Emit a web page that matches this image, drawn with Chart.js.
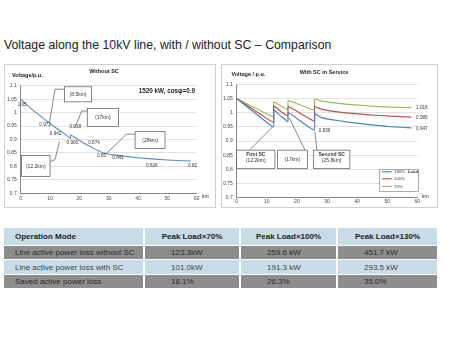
<!DOCTYPE html>
<html>
<head>
<meta charset="utf-8">
<script src="https://cdn.jsdelivr.net/npm/chart.js@4.4.0/dist/chart.umd.min.js"></script>
<style>
  body { margin: 0; background: #fff; width: 450px; height: 338px; overflow: hidden; position: relative;
         font-family: "Liberation Sans", Arial, sans-serif; }
  .title { position: absolute; left: 4px; top: 38px; font-size: 12.3px; color: #222; white-space: nowrap; }
  .panel { position: absolute; border: 1px solid #cfcfcf; background: #fff; }
  #p1 { left: 4px; top: 64px; width: 210px; height: 142px; }
  #p2 { left: 221px; top: 64px; width: 215px; height: 142px; }
  canvas { display: block; }
  table { position: absolute; left: 4px; top: 228px; width: 433px; border-collapse: collapse; font-size: 8px; table-layout: fixed; }
  td { box-sizing: border-box; padding: 0 0 0 26px; height: 14.4px; border-right: 2px solid #fff; border-bottom: 1px solid #fff;
       color: #333; white-space: nowrap; overflow: hidden; }
  td:last-child { border-right: none; }
  td:first-child { padding-left: 11px; }
  tr.head td { height: 17.5px; font-weight: bold; color: #222; text-align: center; padding: 0; background: #c7dce6; }
  tr.head td:first-child { text-align: left; padding-left: 11px; }
  tr.dark td { background: #8d8d8d; color: #2a2a2a; }
  tr.light td { background: #c7dce6; color: #444; }
</style>
</head>
<body>
<div class="title">Voltage along the 10kV line, with / without SC – Comparison</div>
<div class="panel" id="p1"><canvas id="c1" width="210" height="142"></canvas></div>
<div class="panel" id="p2"><canvas id="c2" width="215" height="142"></canvas></div>
<table id="tbl"></table>

<script>
// ліва діаграма: без SC
const leftKm = [0, 4, 8.5, 12.2, 15, 16.9, 17, 18, 21, 24, 28, 33, 40, 47, 53, 58];
const leftV = [1.05, 1.011, 0.972, 0.942, 0.921, 0.904, 0.918, 0.911, 0.89, 0.872, 0.851, 0.841, 0.832, 0.826, 0.822, 0.82];
const leftLabels = ['1.05', '0.972', '0.942', '0.918', '0.906', '0.874', '0.85', '0.841', '0.826', '0.82'];

// права діаграма: з SC
const rightKm = [0, 6, 12.2, 12.3, 14.5, 17, 17.1, 21.5, 25.8, 25.9, 28, 31, 37, 44, 51, 58];
const load130 = [1.05, 1.0, 0.951, 1.010, 0.99, 0.969, 1.001, 0.968, 0.939, 0.996, 0.984, 0.977, 0.967, 0.958, 0.951, 0.947];
const load100 = [1.05, 1.008, 0.967, 1.024, 1.006, 0.989, 1.022, 0.996, 0.971, 1.022, 1.013, 1.007, 0.999, 0.993, 0.988, 0.985];
const load70 = [1.05, 1.018, 0.987, 1.038, 1.025, 1.013, 1.043, 1.026, 1.010, 1.048, 1.042, 1.037, 1.030, 1.024, 1.020, 1.018];
const rightLabels = ['1.018', '0.985', '0.947', '0.939'];
const seriesNames = ['130%', '100%', '70%'];

const yTickValues = [0.7, 0.75, 0.8, 0.85, 0.9, 0.95, 1, 1.05, 1.1];
const yTickLabels = ['0.7', '0.75', '0.8', '0.85', '0.9', '0.95', '1', '1.05', '1.1'];
const xTickValues = [0, 10, 20, 30, 40, 50, 60];
const xTickLabels = ['0', '10', '20', '30', '40', '50', '60'];

// таблиця
const tableHead = ['Operation Mode', 'Peak Load×70%', 'Peak Load×100%', 'Peak Load×130%'];
const rowNames = ['Line active power loss without SC', 'Line active power loss with SC', 'Saved active power loss'];
const lossNoSC = ['123.3kW', '259.6 kW', '451.7 kW'];
const lossSC = ['101.0kW', '191.3 kW', '293.5 kW'];
const saved = ['18.1%', '26.3%', '35.0%'];

const FONT = '"Liberation Sans", Arial, sans-serif';
const BLUE = '#4f81bd', RED = '#c0504d', GREEN = '#9bbb59';

function pts(xs, ys) {
  return xs.map((k, i) => ({ x: k, y: ys[i] }));
}

function scalesFor(yWidth, xHeight, xPad) {
  return {
    x: {
      type: 'linear', min: 0, max: 60,
      afterBuildTicks: s => { s.ticks = xTickValues.map(v => ({ value: v })); },
      afterFit: s => { s.height = xHeight; },
      grid: { display: false, drawTicks: false },
      border: { display: true, color: '#868686', width: 1 },
      ticks: { font: { size: 5, family: FONT }, color: '#444', padding: xPad, maxRotation: 0,
               callback: (v, i) => xTickLabels[i] }
    },
    y: {
      min: 0.7, max: 1.1,
      afterBuildTicks: s => { s.ticks = yTickValues.map(v => ({ value: v })); },
      afterFit: s => { s.width = yWidth; },
      grid: { color: '#d9d9d9', lineWidth: 0.8, drawTicks: false },
      border: { display: true, color: '#868686', width: 1 },
      ticks: { font: { size: 5, family: FONT }, color: '#444', padding: 4,
               callback: (v, i) => yTickLabels[i] }
    }
  };
}

function box(c, px, py, k1, v1, k2, v2, lines, leader, textY) {
  if (leader) {
    c.beginPath();
    leader.forEach((p, i) => i ? c.lineTo(px(p[0]), py(p[1])) : c.moveTo(px(p[0]), py(p[1])));
    c.strokeStyle = '#555'; c.lineWidth = 0.7; c.stroke();
  }
  const x1 = px(k1), y1 = py(v1), x2 = px(k2), y2 = py(v2);
  c.fillStyle = '#fff';
  c.fillRect(x1, y1, x2 - x1, y2 - y1);
  c.strokeStyle = '#555'; c.lineWidth = 0.7;
  c.strokeRect(x1, y1, x2 - x1, y2 - y1);
  c.fillStyle = '#333'; c.textAlign = 'center'; c.textBaseline = 'middle';
  lines.forEach((t, i) => {
    c.font = (i === 0 && lines.length > 1 ? 'bold ' : '') + '5px ' + FONT;
    const ty = textY ? y1 + textY[i] : (y1 + y2) / 2;
    c.fillText(t, (x1 + x2) / 2, ty);
  });
}

const leftDecor = {
  id: 'leftDecor',
  afterDraw(chart) {
    const c = chart.ctx, X = chart.scales.x, Y = chart.scales.y;
    const px = k => X.getPixelForValue(k), py = v => Y.getPixelForValue(v);
    c.save();
    c.fillStyle = '#222'; c.textBaseline = 'middle';
    c.font = 'bold 5.5px ' + FONT; c.textAlign = 'center';
    c.fillText('Without SC', 99, 6);
    c.textAlign = 'left';
    c.fillText('Voltage/p.u.', 7, 10.5);
    c.font = '5px ' + FONT;
    c.fillText('km', 197, 132);
    c.font = 'bold 6.3px ' + FONT; c.textAlign = 'right';
    c.fillText('1520 kW, cosφ=0.9', px(59.4), py(1.08));

    // підписи значень
    const pos = [[0.5, 1.03], [8.3, 0.954], [11.9, 0.921], [18.6, 0.947], [17.6, 0.889],
                 [25, 0.888], [27.6, 0.839], [33.2, 0.834], [44.7, 0.804], [58.6, 0.801]];
    c.font = '4.6px ' + FONT; c.textAlign = 'center'; c.fillStyle = '#333';
    leftLabels.forEach((t, i) => c.fillText(t, px(pos[i][0]), py(pos[i][1])));

    // виноски
    box(c, px, py, 14.9, 1.096, 24.2, 1.04, ['(8.5km)'], [[9.8, 0.962], [11.7, 1.087], [14.9, 1.087]]);
    box(c, px, py, 22.7, 1.015, 33.3, 0.948, ['(17km)'], [[18.5, 0.944], [20.8, 1.006], [22.7, 1.006]]);
    box(c, px, py, 39, 0.929, 49.2, 0.866, ['(28km)'], [[29.3, 0.849], [36.1, 0.92], [39, 0.92]]);
    box(c, px, py, 0.3, 0.84, 10, 0.762, ['(12.2km)'], [[10, 0.818], [11.7, 0.825], [13.2, 0.892]]);
    c.restore();
  }
};

const rightDecor = {
  id: 'rightDecor',
  afterDraw(chart) {
    const c = chart.ctx, X = chart.scales.x, Y = chart.scales.y;
    const px = k => X.getPixelForValue(k), py = v => Y.getPixelForValue(v);
    c.save();
    c.fillStyle = '#222'; c.textBaseline = 'middle';
    c.font = 'bold 5.5px ' + FONT; c.textAlign = 'center';
    c.fillText('With SC in Service', 102, 7.7);
    c.textAlign = 'left';
    c.fillText('Voltage / p.u.', 9.5, 9.5);
    c.font = '5px ' + FONT;
    c.fillText('km', 200, 131.7);

    const pos = [[59.6, 1.018], [59.6, 0.983], [59.6, 0.945], [27.3, 0.936]];
    c.font = '4.6px ' + FONT; c.fillStyle = '#333';
    rightLabels.forEach((t, i) => c.fillText(t, px(pos[i][0]), py(pos[i][1])));

    box(c, px, py, 0, 0.868, 12.7, 0.803, ['First SC', '(12.2km)'], [[4.2, 0.868], [12, 0.951]], [4.5, 10.5]);
    box(c, px, py, 13.5, 0.868, 23.5, 0.803, ['(17km)'], [[22.7, 0.868], [17.5, 0.981]]);
    box(c, px, py, 25.5, 0.868, 37.6, 0.803, ['Second SC', '(25.8km)'], [[26.6, 0.868], [26, 0.933]], [4.5, 10.5]);

    // легенда
    const lx1 = px(47.4), ly1 = py(0.799), lx2 = px(60.4), ly2 = py(0.722);
    c.fillStyle = '#fff'; c.fillRect(lx1, ly1, lx2 - lx1, ly2 - ly1);
    c.strokeStyle = '#888'; c.lineWidth = 0.7; c.strokeRect(lx1, ly1, lx2 - lx1, ly2 - ly1);
    const rows = [0.7915, 0.7667, 0.7397];
    const cols = [BLUE, RED, GREEN];
    c.font = '4.2px ' + FONT; c.textAlign = 'left';
    seriesNames.forEach((n, i) => {
      c.beginPath(); c.moveTo(px(48.3), py(rows[i])); c.lineTo(px(51.5), py(rows[i]));
      c.strokeStyle = cols[i]; c.lineWidth = 1.2; c.stroke();
      c.fillStyle = '#333'; c.fillText(n, px(52.3), py(rows[i]));
    });
    c.font = 'bold 4.2px ' + FONT;
    c.fillText('Load', px(56.9), py(rows[0]));
    c.restore();
  }
};

const common = {
  responsive: false, animation: false, devicePixelRatio: 1,
  plugins: { legend: { display: false }, tooltip: { enabled: false } },
  elements: { point: { radius: 0 }, line: { tension: 0.15, borderWidth: 1.2 } }
};

new Chart(document.getElementById('c1'), {
  type: 'line',
  data: { datasets: [{ data: pts(leftKm, leftV), borderColor: '#5b8cc4', borderWidth: 1.1, fill: false }] },
  options: Object.assign({}, common, {
    layout: { padding: { left: 0, top: 20.7, right: 18.3, bottom: 0 } },
    scales: scalesFor(15.7, 13.7, 2)
  }),
  plugins: [leftDecor]
});

new Chart(document.getElementById('c2'), {
  type: 'line',
  data: { datasets: [
    { label: seriesNames[0], data: pts(rightKm, load130), borderColor: BLUE, fill: false },
    { label: seriesNames[1], data: pts(rightKm, load100), borderColor: RED, fill: false },
    { label: seriesNames[2], data: pts(rightKm, load70), borderColor: GREEN, fill: false }
  ] },
  options: Object.assign({}, common, {
    layout: { padding: { left: 0, top: 19.5, right: 19.7, bottom: 0 } },
    scales: scalesFor(14.7, 9.3, 1)
  }),
  plugins: [rightDecor]
});

// будуємо таблицю
const tbl = document.getElementById('tbl');
const widths = [140, 96, 97, 100];
const cg = document.createElement('colgroup');
widths.forEach(w => {
  const col = document.createElement('col');
  col.style.width = w + 'px';
  cg.appendChild(col);
});
tbl.appendChild(cg);
function addRow(cells, cls) {
  const tr = document.createElement('tr');
  tr.className = cls;
  cells.forEach(t => {
    const td = document.createElement('td');
    td.textContent = t;
    tr.appendChild(td);
  });
  tbl.appendChild(tr);
}
addRow(tableHead, 'head');
addRow([rowNames[0]].concat(lossNoSC), 'dark');
addRow([rowNames[1]].concat(lossSC), 'light');
addRow([rowNames[2]].concat(saved), 'dark');
</script>
</body>
</html>
